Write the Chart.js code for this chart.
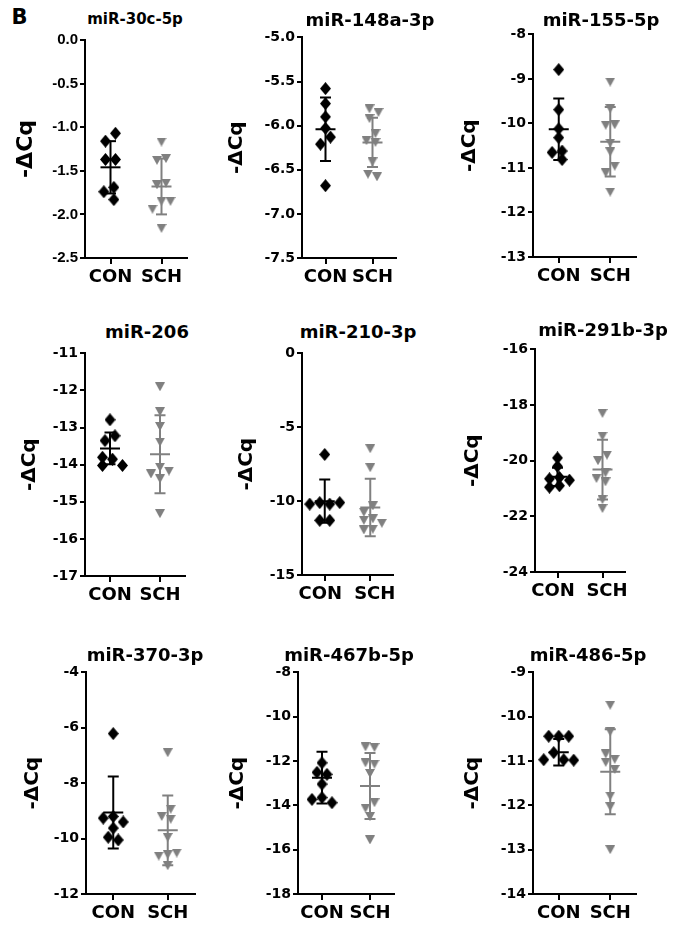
<!DOCTYPE html>
<html>
<head>
<meta charset="utf-8">
<script src="https://cdn.jsdelivr.net/npm/chart.js@4.4.1/dist/chart.umd.min.js"></script>
<style>
  body { margin: 0; background: #fff; }
  #fig { position: relative; width: 677px; height: 933px; overflow: hidden; background: #fff; }
  #fig canvas { position: absolute; }
  .lbl { position: absolute; line-height: 1; white-space: nowrap; font-weight: bold; color: #000; transform: translateX(-50%); }
</style>
</head>
<body>
<div id="fig"></div>
<script>
const mirnas = ["miR-30c-5p", "miR-148a-3p", "miR-155-5p", "miR-206", "miR-210-3p",
  "miR-291b-3p", "miR-370-3p", "miR-467b-5p", "miR-486-5p"];
const groups = ["CON", "SCH"];

// -ΔCq per animal
const conValues = [
  [-1.07, -1.16, -1.37, -1.37, -1.69, -1.74, -1.83],
  [-5.58, -5.75, -5.90, -6.03, -6.13, -6.21, -6.68],
  [-8.79, -9.69, -10.12, -10.32, -10.62, -10.65, -10.81],
  [-12.79, -13.22, -13.35, -13.85, -13.80, -14.02, -14.02],
  [-6.84, -10.2, -10.1, -10.1, -10.2, -11.3, -11.3],
  [-19.9, -20.2, -20.6, -20.65, -20.7, -20.9, -20.95],
  [-6.21, -9.2, -9.26, -9.4, -9.62, -10.05, -9.95],
  [-12.08, -12.6, -12.51, -13.04, -13.65, -13.73, -13.88],
  [-10.44, -10.44, -10.44, -10.97, -10.81, -10.98, -10.97]
];
const schValues = [
  [-1.17, -1.36, -1.38, -1.64, -1.66, -1.85, -1.94, -1.85, -2.16],
  [-5.85, -5.81, -5.92, -6.09, -6.17, -6.19, -6.41, -6.58, -6.55],
  [-9.07, -9.67, -10.03, -10.04, -10.44, -10.64, -10.96, -11.11, -11.54],
  [-11.90, -12.57, -12.97, -13.39, -14.07, -14.25, -14.38, -14.17, -15.32],
  [-6.45, -7.74, -10.32, -10.75, -11.2, -11.3, -11.5, -11.9, -11.95],
  [-18.3, -19.12, -19.8, -20.0, -20.44, -20.64, -20.76, -21.4, -21.72],
  [-6.90, -8.94, -9.30, -9.20, -9.96, -10.58, -10.63, -10.52, -10.98],
  [-11.39, -11.36, -12.14, -12.08, -12.56, -13.88, -14.13, -14.51, -15.56],
  [-9.74, -10.34, -10.96, -10.84, -11.03, -11.19, -11.79, -12.03, -13.0]
];

// mean ± SD bars as drawn
const conMean = [-1.46, -6.04, -10.13, -13.56, -10.0, -20.58, -9.06, -12.75, -10.8];
const conSD = [0.30, 0.36, 0.69, 0.43, 1.47, 0.33, 1.30, 1.17, 0.30];
const schMean = [-1.68, -6.19, -10.41, -13.72, -10.43, -20.32, -9.70, -13.13, -11.24];
const schSD = [0.32, 0.28, 0.78, 1.05, 1.95, 1.07, 1.26, 1.49, 0.96];

// y axis ranges
const yMin = [-2.5, -7.5, -13, -17, -15, -24, -12, -18, -14];
const yMax = [0, -5, -8, -11, 0, -16, -4, -8, -9];
const yStep = [0.5, 0.5, 1, 1, 5, 2, 2, 2, 1];
const yDecimals = [1, 1, 0, 0, 0, 0, 0, 0, 0];

// panel placement on the page (px)
const layout = [
  { tx: 135, ty: 19.7, yt: 27, ax: 85, xe: 187, top: 39, bottom: 258, narrow: true },
  { tx: 370, ty: 19.7, yt: 237, ax: 302, xe: 396, top: 37, bottom: 258 },
  { tx: 601, ty: 19.7, yt: 470, ax: 533, xe: 636, top: 34, bottom: 257 },
  { tx: 147, ty: 331.3, yt: 30, ax: 85, xe: 185, top: 353, bottom: 576 },
  { tx: 358, ty: 331.3, yt: 247, ax: 302, xe: 393, top: 353, bottom: 575, spread: true },
  { tx: 603, ty: 329.7, yt: 473, ax: 535, xe: 625, top: 349, bottom: 572, spread: true },
  { tx: 145, ty: 654.5, yt: 33, ax: 86, xe: 195, top: 672, bottom: 894 },
  { tx: 349, ty: 654.5, yt: 238, ax: 298, xe: 394, top: 672, bottom: 894 },
  { tx: 588, ty: 654.5, yt: 473, ax: 533, xe: 636, top: 672, bottom: 894 }
];

const BLACK = "#000000";
const GREY = "#808080";
const DEJAVU = "'DejaVu Sans', sans-serif";
const ARIAL = "'Liberation Sans', Arial, sans-serif";

// marker shapes
function makeDiamond(color) {
  const c = document.createElement("canvas");
  c.width = 11; c.height = 13;
  const g = c.getContext("2d");
  g.fillStyle = color;
  g.beginPath();
  g.moveTo(5.5, 0); g.lineTo(11, 6.5); g.lineTo(5.5, 13); g.lineTo(0, 6.5);
  g.closePath(); g.fill();
  return c;
}
function makeDownTriangle(color) {
  const c = document.createElement("canvas");
  c.width = 10; c.height = 9;
  const g = c.getContext("2d");
  g.fillStyle = color;
  g.beginPath();
  g.moveTo(0, 0); g.lineTo(10, 0); g.lineTo(5, 9);
  g.closePath(); g.fill();
  return c;
}
const diamond = makeDiamond(BLACK);
const triangle = makeDownTriangle(GREY);

// spread points sideways where they would overlap (scatter dot plot)
function swarm(values, uy, w, h) {
  const placed = [];
  const offs = values.map((v) => {
    const cands = [0];
    for (let i = 1; i < 8; i++) cands.push(-i * w, i * w);
    let dx = 0;
    for (const c of cands) {
      const hit = placed.some((p) => Math.abs(p.dx - c) < w * 0.95 && Math.abs(p.y - v) / uy < h);
      if (!hit) { dx = c; break; }
    }
    placed.push({ y: v, dx });
    return dx;
  });
  const idx = values.map((v, i) => i).sort((a, b) => values[b] - values[a]);
  let start = 0;
  for (let i = 1; i <= idx.length; i++) {
    if (i === idx.length || (values[idx[i - 1]] - values[idx[i]]) / uy >= h) {
      const chain = idx.slice(start, i);
      const m = chain.reduce((s, j) => s + offs[j], 0) / chain.length;
      chain.forEach((j) => (offs[j] -= m));
      start = i;
    }
  }
  return offs;
}

function errorBar(x, mean, sd, color, capHalf, meanHalf) {
  const line = (pts) => ({
    type: "scatter", data: pts, showLine: true, borderColor: color,
    borderWidth: 2, pointRadius: 0, pointHoverRadius: 0, fill: false
  });
  return [
    line([{ x, y: mean - sd }, { x, y: mean + sd }]),
    line([{ x: x - capHalf, y: mean + sd }, { x: x + capHalf, y: mean + sd }]),
    line([{ x: x - capHalf, y: mean - sd }, { x: x + capHalf, y: mean - sd }]),
    line([{ x: x - meanHalf, y: mean }, { x: x + meanHalf, y: mean }])
  ];
}

const fig = document.getElementById("fig");

const panelLetter = document.createElement("div");
panelLetter.className = "lbl";
panelLetter.textContent = "B";
panelLetter.style.font = "bold 21px " + DEJAVU;
panelLetter.style.lineHeight = "1";
panelLetter.style.left = "19.5px";
panelLetter.style.top = (17 - 0.485 * 21) + "px";
fig.appendChild(panelLetter);

layout.forEach((p, i) => {
  const L = p.yt - 14;
  const T = p.top - 10;
  const W = p.xe - L + 12;
  const H = p.bottom + 36 - T;

  const cv = document.createElement("canvas");
  cv.width = W; cv.height = H;
  cv.style.left = L + "px";
  cv.style.top = T + "px";
  fig.appendChild(cv);

  const uy = (yMax[i] - yMin[i]) / (p.bottom - p.top);
  const ux = 2 / (p.xe - p.ax);
  const conOff = swarm(conValues[i], uy, 10, 8);
  const schOff = swarm(schValues[i], uy, 9, 8);

  const tickFamily = p.narrow ? ARIAL : DEJAVU;
  const tickSize = p.narrow ? 15 : 14;
  // on tight panels the two group names sit a little apart from their ticks
  const catLabels = p.spread ? ["CON\u2002", "\u2002SCH"] : groups;

  const datasets = [
    ...errorBar(1, conMean[i], conSD[i], BLACK, 5.5 * ux, 10 * ux),
    ...errorBar(2, schMean[i], schSD[i], GREY, 5.5 * ux, 10 * ux),
    {
      type: "scatter",
      data: conValues[i].map((v, k) => ({ x: 1 + conOff[k] * ux, y: v })),
      pointStyle: diamond, pointRadius: 5, pointHoverRadius: 5
    },
    {
      type: "scatter",
      data: schValues[i].map((v, k) => ({ x: 2 + schOff[k] * ux, y: v })),
      pointStyle: triangle, pointRadius: 5, pointHoverRadius: 5
    }
  ];

  const axisGrid = {
    display: true, drawOnChartArea: false, drawTicks: true,
    tickLength: 5, color: BLACK, lineWidth: 2
  };
  const axisBorder = { display: true, color: BLACK, width: 2 };

  new Chart(cv, {
    type: "scatter",
    data: { datasets },
    options: {
      responsive: false,
      animation: false,
      events: [],
      layout: { padding: { top: 10, right: 12, left: 0, bottom: 0 } },
      plugins: {
        legend: { display: false },
        tooltip: { enabled: false },
        title: { display: false }
      },
      scales: {
        x: {
          type: "linear", min: 0.5, max: 2.5,
          afterBuildTicks: (s) => { s.ticks = [{ value: 1 }, { value: 2 }]; },
          afterFit: (s) => { s.height = 36; },
          ticks: {
            autoSkip: false, maxRotation: 0, padding: 3, color: BLACK,
            font: { family: DEJAVU, size: 18, weight: "bold" },
            callback: (v) => catLabels[Math.round(v) - 1]
          },
          grid: { ...axisGrid, tickLength: 6 },
          border: axisBorder
        },
        y: {
          min: yMin[i], max: yMax[i],
          afterFit: (s) => { s.width = p.ax - L; },
          ticks: {
            stepSize: yStep[i], autoSkip: false, padding: 2, color: BLACK,
            font: { family: tickFamily, size: tickSize, weight: "bold" },
            callback: (v) => Number(v).toFixed(yDecimals[i])
          },
          grid: axisGrid,
          border: axisBorder,
          title: {
            display: true, text: "-ΔCq", color: BLACK,
            font: { family: DEJAVU, size: p.narrow ? 22 : 20, weight: "bold" },
            padding: { top: p.narrow ? 0 : 2, bottom: 0 }
          }
        }
      }
    }
  });

  const title = document.createElement("div");
  title.className = "lbl";
  title.textContent = mirnas[i];
  const fs = p.narrow ? 15 : 18;
  title.style.font = "bold " + fs + "px " + DEJAVU;
  title.style.lineHeight = "1";
  title.style.left = p.tx + "px";
  title.style.top = (p.ty - 0.485 * fs) + "px";
  fig.appendChild(title);
});
</script>
</body>
</html>
